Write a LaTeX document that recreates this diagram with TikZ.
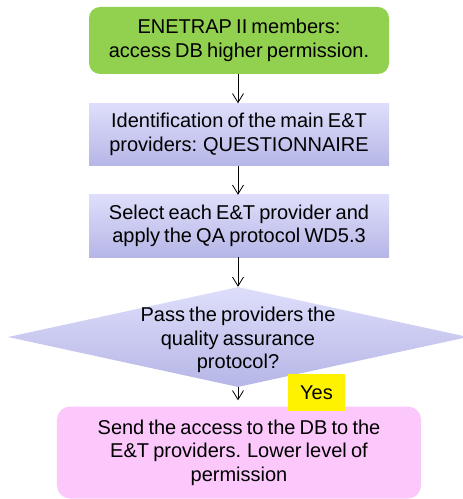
\documentclass[tikz,border=0pt]{standalone}
\usepackage{fontspec}
\setmainfont{Liberation Sans}[WordSpace=0.75]
\usetikzlibrary{arrows.meta,shapes.geometric}
\definecolor{gboxc}{RGB}{146,208,80}
\definecolor{lavtop}{RGB}{222,222,251}
\definecolor{lavbot}{RGB}{182,182,231}
\definecolor{pinkc}{RGB}{252,200,252}
\tikzset{
  txt/.style={font=\fontsize{20bp}{23.5bp}\selectfont, align=center, text=black},
  procbox/.style={txt, rectangle, minimum width=300bp, minimum height=62bp, inner sep=0pt,
    top color=lavtop, bottom color=lavbot, draw=none},
  flow/.style={draw=black, line width=0.8pt, -{Straight Barb[length=9bp,width=11bp,line width=0.8pt]}}
}
\begin{document}
\begin{tikzpicture}[x=1bp,y=-1bp]
\useasboundingbox (0,0) rectangle (463,499);
\node[txt, rectangle, rounded corners=11bp, fill=gboxc, minimum width=300bp, minimum height=67bp, inner sep=0pt] (start) at (239,40.5) {ENETRAP II members:\\access DB higher permission.};
\node[procbox] (ident) at (239,134.5) {Identification of the main E\&T\\providers: QUESTIONNAIRE};
\node[procbox] (select) at (239,226) {Select each E\&T provider and\\apply the QA protocol WD5.3};
\node[diamond, minimum width=460bp, minimum height=100bp, inner sep=0pt, top color=lavtop, bottom color=lavbot, draw=none] (dec) at (238,337) {};
\node[txt, inner sep=0pt] (dectext) at (238,340) {Pass the providers the\\quality assurance\\protocol?};
\node[txt, rectangle, rounded corners=13bp, fill=pinkc, minimum width=364bp, minimum height=92bp, inner sep=0pt] (send) at (239,452.5) {Send the access to the DB to the\\E\&T providers. Lower level of\\permission};
\node[txt, rectangle, fill=yellow, minimum width=57bp, minimum height=37bp, inner sep=0pt] (yes) at (316.5,392.5) {Yes};
\draw[flow] (start.south -| 238,0) -- (ident.north -| 238,0);
\draw[flow] (ident.south -| 238,0) -- (select.north -| 238,0);
\draw[flow] (select.south -| 238,0) -- (dec.north);
\draw[flow, shorten >=6bp] (dec.south) -- (send.north -| 238,0);
\end{tikzpicture}
\end{document}
